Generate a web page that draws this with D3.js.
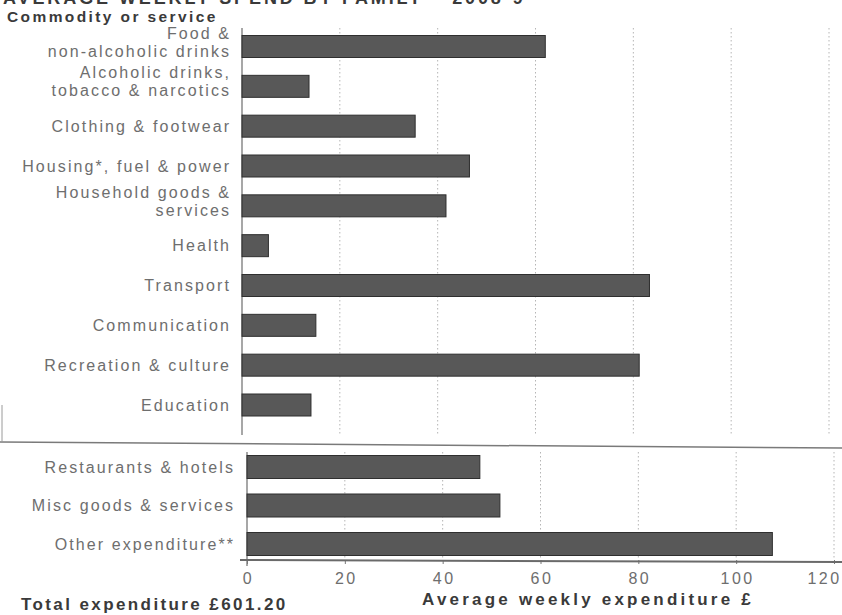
<!DOCTYPE html>
<html lang="en">
<head>
    <meta charset="utf-8">
    <title>Average weekly spend by family</title>
    <script src="https://d3js.org/d3.v7.min.js"></script>
    <style>
        body {
            margin: 0;
            background: #ffffff;
        }
        svg text {
            font-family: "Liberation Sans", Arial, sans-serif;
        }
        .cat {
            fill: #6e6e6e;
            font-size: 16px;
            letter-spacing: 2.1px;
        }
        .bold {
            fill: #3a3a3a;
            font-weight: bold;
            font-size: 15px;
        }
        .grid {
            stroke: #b5b5b5;
            stroke-width: 1;
            stroke-dasharray: 1.5 2.5;
        }
        .bar {
            fill: #585858;
            stroke: #2f2f2f;
            stroke-width: 1;
        }
    </style>
</head>
<body>
    <svg id="chart" width="842" height="615"></svg>

    <script>
        const width = 842, height = 615;

        // upper panel: commodities
        const topLabels = [
            ["Food &", "non-alcoholic drinks"],
            ["Alcoholic drinks,", "tobacco & narcotics"],
            ["Clothing & footwear"],
            ["Housing*, fuel & power"],
            ["Household goods &", "services"],
            ["Health"],
            ["Transport"],
            ["Communication"],
            ["Recreation & culture"],
            ["Education"]
        ];
        const topValues = [62.0, 13.7, 35.4, 46.5, 41.7, 5.4, 83.3, 15.1, 81.2, 14.1];

        // lower panel: the rest
        const bottomLabels = ["Restaurants & hotels", "Misc goods & services", "Other expenditure**"];
        const bottomValues = [47.6, 51.7, 107.4];

        const xTicks = [0, 20, 40, 60, 80, 100, 120];

        const svg = d3.select("#chart");

        const xTop = d3.scaleLinear().domain([0, 120]).range([242, 829]);
        const xBot = d3.scaleLinear().domain([0, 120]).range([247, 834]);

        const yTop = d3.scalePoint().domain(d3.range(topValues.length)).range([46.5, 405]);
        const yBot = d3.scalePoint().domain(d3.range(bottomValues.length)).range([467, 544]);

        const barH = 22;
        const ls = 2.1; // letter spacing of the category labels

        // title (cut off at the top of the scan)
        svg.append("text")
            .attr("class", "bold")
            .attr("x", 3)
            .attr("y", 4)
            .style("font-size", "18px")
            .style("letter-spacing", "2.9px")
            .text("AVERAGE WEEKLY SPEND BY FAMILY \u2013 2008-9");

        svg.append("text")
            .attr("class", "bold")
            .attr("x", 7)
            .attr("y", 22)
            .style("font-size", "15.5px")
            .style("letter-spacing", "2.4px")
            .text("Commodity or service");

        // frame round the upper panel
        svg.append("line")
            .attr("x1", 0).attr("x2", 842)
            .attr("y1", 442).attr("y2", 448)
            .style("stroke", "#7a7a7a")
            .style("stroke-width", 1.5);
        svg.append("line")
            .attr("x1", 2).attr("x2", 2)
            .attr("y1", 405).attr("y2", 442)
            .style("stroke", "#9a9a9a")
            .style("stroke-width", 1);

        // gridlines
        svg.append("g")
            .selectAll("line")
            .data(xTicks.slice(1))
            .enter().append("line")
            .attr("class", "grid")
            .attr("x1", d => xTop(d)).attr("x2", d => xTop(d))
            .attr("y1", 28).attr("y2", 435);

        svg.append("g")
            .selectAll("line")
            .data(xTicks.slice(1))
            .enter().append("line")
            .attr("class", "grid")
            .attr("x1", d => xBot(d)).attr("x2", d => xBot(d))
            .attr("y1", 452).attr("y2", 558);

        // vertical axis lines
        svg.append("line")
            .attr("x1", xTop(0)).attr("x2", xTop(0))
            .attr("y1", 28).attr("y2", 435)
            .style("stroke", "#8a8a8a")
            .style("stroke-width", 1.5);
        svg.append("line")
            .attr("x1", xBot(0)).attr("x2", xBot(0))
            .attr("y1", 452).attr("y2", 566)
            .style("stroke", "#8a8a8a")
            .style("stroke-width", 1.5);

        // bars, upper
        svg.append("g")
            .selectAll("rect")
            .data(topValues)
            .enter().append("rect")
            .attr("class", "bar")
            .attr("x", xTop(0))
            .attr("y", (d, i) => yTop(i) - barH / 2)
            .attr("width", d => xTop(d) - xTop(0))
            .attr("height", barH);

        // bars, lower
        svg.append("g")
            .selectAll("rect")
            .data(bottomValues)
            .enter().append("rect")
            .attr("class", "bar")
            .attr("x", xBot(0))
            .attr("y", (d, i) => yBot(i) - barH / 2 - 0.5)
            .attr("width", d => xBot(d) - xBot(0))
            .attr("height", barH + 1);

        // category labels, upper
        const topText = svg.append("g")
            .selectAll("text")
            .data(topLabels)
            .enter().append("text")
            .attr("class", "cat")
            .attr("text-anchor", "end")
            .attr("x", 229 + ls)
            .attr("y", (d, i) => yTop(i));

        topText.selectAll("tspan")
            .data(d => d.map((line, j) => ({ line, j, n: d.length })))
            .enter().append("tspan")
            .attr("x", 229 + ls)
            .attr("dy", d => d.n === 1 ? 5.5 : (d.j === 0 ? -8 : 18))
            .text(d => d.line);

        // category labels, lower
        svg.append("g")
            .selectAll("text")
            .data(bottomLabels)
            .enter().append("text")
            .attr("class", "cat")
            .attr("text-anchor", "end")
            .attr("x", 233 + ls)
            .attr("y", (d, i) => yBot(i) + 5.5)
            .text(d => d);

        // x axis
        const axis = svg.append("g")
            .attr("transform", "translate(0,560)")
            .call(d3.axisBottom(xBot).tickValues(xTicks).tickSize(4).tickPadding(9));
        axis.select(".domain").remove();
        axis.selectAll(".tick line").style("stroke", "#777");
        axis.selectAll(".tick text")
            .attr("class", "cat")
            .style("font-family", "'Liberation Sans', Arial, sans-serif")
            .style("letter-spacing", "2.5px")
            .attr("dx", d => d === 120 ? -10 : 1);

        svg.append("line")
            .attr("x1", 240).attr("x2", 842)
            .attr("y1", 560).attr("y2", 562)
            .style("stroke", "#6a6a6a")
            .style("stroke-width", 2);

        svg.append("text")
            .attr("class", "bold")
            .attr("x", 588)
            .attr("y", 605)
            .attr("text-anchor", "middle")
            .style("font-size", "17px")
            .style("letter-spacing", "3.2px")
            .text("Average weekly expenditure \u00a3");

        svg.append("text")
            .attr("class", "bold")
            .attr("x", 21)
            .attr("y", 610)
            .style("font-size", "17px")
            .style("letter-spacing", "2.4px")
            .text("Total expenditure \u00a3601.20");
    </script>
</body>
</html>
